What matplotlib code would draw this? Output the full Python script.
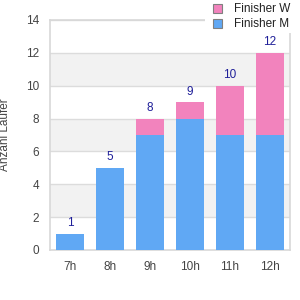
import matplotlib
matplotlib.use("Agg")
import matplotlib.pyplot as plt
from matplotlib.patches import Patch, Rectangle

plt.rcParams["font.family"] = ["Liberation Sans", "DejaVu Sans"]

hours = ["7h", "8h", "9h", "10h", "11h", "12h"]
finisher_m = [1, 5, 7, 8, 7, 7]
finisher_w = [0, 0, 1, 1, 3, 5]

blue = "#60a8f4"
pink = "#f283bd"

fig = plt.figure(figsize=(3, 3), dpi=100)
ax = fig.add_axes([50 / 300, 50 / 300, 240 / 300, 230 / 300])

x = range(len(hours))
ax.bar(x, finisher_m, width=0.72, color=blue, zorder=3)
ax.bar(x, finisher_w, width=0.72, bottom=finisher_m, color=pink, zorder=3)

# totals above the bars
for i in x:
    total = finisher_m[i] + finisher_w[i]
    ax.text(i, total + 0.28, str(total), ha="center", va="bottom",
            fontsize=8.5, color="#1f1f99", zorder=4)

ax.set_xlim(-0.5, len(hours) - 0.5)
ax.set_ylim(0, 14)
ax.set_yticks(range(0, 15, 2))
ax.set_xticks(list(x))
ax.set_xticklabels(hours)

# alternating grey bands
for lo in range(2, 14, 4):
    ax.axhspan(lo, lo + 2, color="#f2f2f2", zorder=0, lw=0)
for y in range(2, 15, 2):
    ax.axhline(y, color="#dcdcdc", lw=1, zorder=1)

for side in ["left", "right", "bottom", "top"]:
    ax.spines[side].set_color("#d8d8d8")
    ax.spines[side].set_linewidth(1.2)
ax.tick_params(length=0, labelsize=8.5, labelcolor="#444444", pad=8)
ax.tick_params(axis="x", pad=8)

ax.set_ylabel("Anzahl Läufer", fontsize=8.5, color="#444444")
ax.yaxis.set_label_coords(-39 / 240, 0.5)

# white box behind the legend hides the frame corner
fig.patches.append(Rectangle((205 / 300, 1 - 33 / 300), 95 / 300, 33 / 300,
                             transform=fig.transFigure, facecolor="white",
                             edgecolor="none", zorder=5))

handles = [Patch(facecolor=pink, edgecolor="#808080", lw=0.8, label="Finisher W"),
           Patch(facecolor=blue, edgecolor="#808080", lw=0.8, label="Finisher M")]
leg = fig.legend(handles=handles, loc="upper left", bbox_to_anchor=(211 / 300, 1 - 1 / 300),
                 frameon=False, fontsize=8.5, handlelength=0.75, handleheight=0.75,
                 handletextpad=1.0, labelspacing=0.25, borderpad=0.2,
                 borderaxespad=0)
leg.set_zorder(10)
for t in leg.get_texts():
    t.set_color("#222222")

fig.savefig("out.png", dpi=100)
